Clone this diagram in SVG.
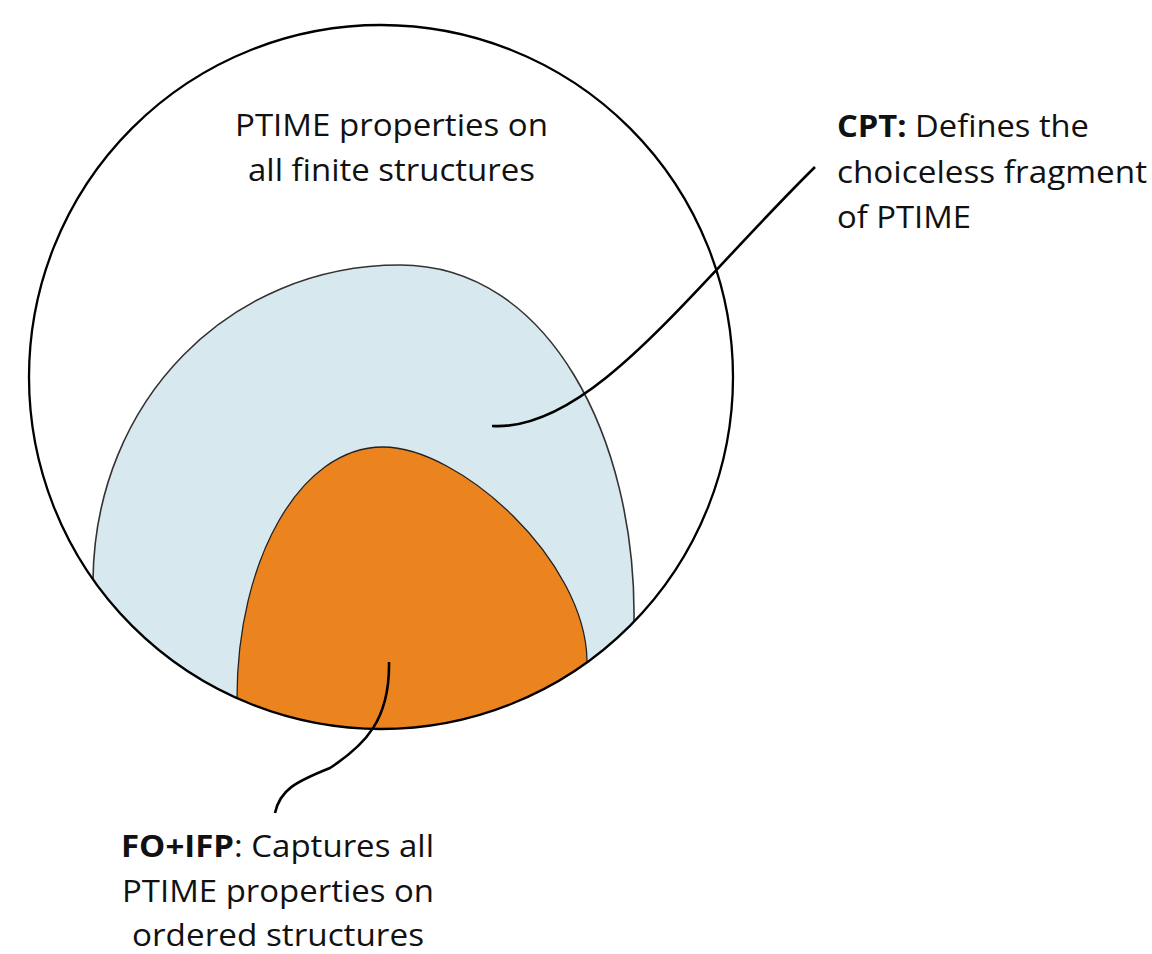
<svg xmlns="http://www.w3.org/2000/svg" width="1152" height="954" viewBox="0 0 1152 954">
<style>
.lbl{font-family:"Open Sans","Noto Sans","Liberation Sans",sans-serif;font-size:31px;fill:#111}
.b{font-weight:bold}
.lead{fill:none;stroke:#000;stroke-width:2.6;stroke-linecap:butt}
</style>
<defs>
<clipPath id="inner"><circle cx="381" cy="377" r="352"/></clipPath>
</defs>
<rect width="1152" height="954" fill="#fff"/>
<g id="ptime">
<circle cx="381" cy="377" r="352" fill="#fff"/>
</g>
<g id="cpt" clip-path="url(#inner)">
<path d="M93,660 L93,580 C95,400 230,265 400,265 C550,265 636,440 634,620 L634,780 L90,780 Z" fill="#d8e8ef" stroke="#333" stroke-width="1.6"/>
</g>
<g id="foifp" clip-path="url(#inner)">
<path d="M237,780 L237,698 C237,560 300,447 383,447 C460,447 585,560 587,660 L587,780 Z" fill="#eb841e" stroke="#222" stroke-width="1.3"/>
</g>
<circle cx="381" cy="377" r="352" fill="none" stroke="#000" stroke-width="2.3"/>
<g id="connectors">
<path class="lead" d="M492,426 C590,432 690,290 815,167"/>
<path class="lead" d="M389,662 C390,720 365,745 330,768 C295,782 280,790 275,813"/>
</g>
<g id="labels">
<text class="lbl" x="235" y="136" textLength="313" lengthAdjust="spacingAndGlyphs">PTIME properties on</text>
<text class="lbl" x="248" y="181" textLength="287" lengthAdjust="spacingAndGlyphs">all finite structures</text>
<text class="lbl" x="837" y="137" textLength="252" lengthAdjust="spacingAndGlyphs"><tspan class="b">CPT:</tspan> Defines the</text>
<text class="lbl" x="837" y="182.5" textLength="310" lengthAdjust="spacingAndGlyphs">choiceless fragment</text>
<text class="lbl" x="837" y="228" textLength="134" lengthAdjust="spacingAndGlyphs">of PTIME</text>
<text class="lbl" x="121" y="857" textLength="313" lengthAdjust="spacingAndGlyphs"><tspan class="b">FO+IFP</tspan>: Captures all</text>
<text class="lbl" x="122" y="902" textLength="312" lengthAdjust="spacingAndGlyphs">PTIME properties on</text>
<text class="lbl" x="132" y="945.5" textLength="292" lengthAdjust="spacingAndGlyphs">ordered structures</text>
</g>
</svg>
